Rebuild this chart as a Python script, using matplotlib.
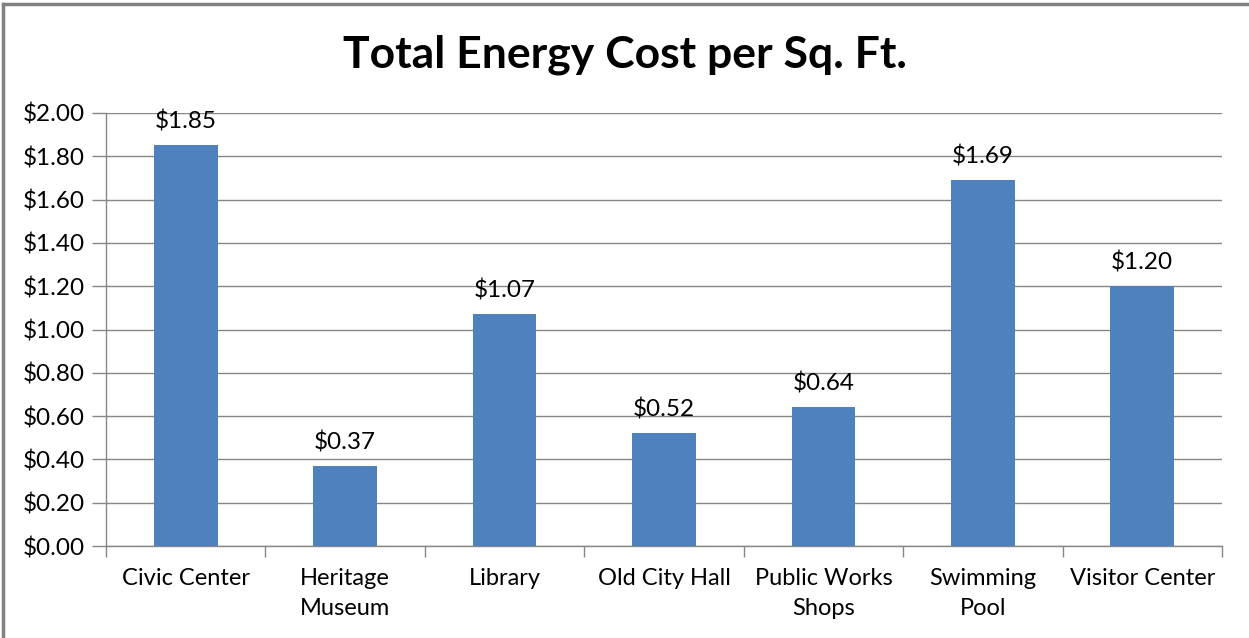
import matplotlib
matplotlib.use("Agg")
import matplotlib.pyplot as plt
from matplotlib.lines import Line2D
import numpy as np

categories = ["Civic Center", "Heritage\nMuseum", "Library", "Old City Hall",
              "Public Works\nShops", "Swimming\nPool", "Visitor Center"]
values = [1.85, 0.37, 1.07, 0.52, 0.64, 1.69, 1.20]
yticks = [0.0, 0.2, 0.4, 0.6, 0.8, 1.0, 1.2, 1.4, 1.6, 1.8, 2.0]
title = "Total Energy Cost per Sq. Ft."

plt.rcParams['font.family'] = ['Lato', 'DejaVu Sans']

W, H = 1249, 638
fig = plt.figure(figsize=(W / 100, H / 100), dpi=100)
ax = fig.add_axes([106 / W, 1 - 546 / H, (1222 - 106) / W, (546 - 113) / H])

grid_c = "#868686"
bar_c = "#4F81BD"
text_c = "#000000"

x = np.arange(len(categories))
ax.bar(x, values, width=0.4, color=bar_c, zorder=3)
for xi, v in zip(x, values):
    ax.annotate(f"${v:.2f}", (xi, v), xytext=(0, 9), textcoords="offset points",
                ha="center", va="bottom", fontsize=17.5, color=text_c)

ax.set_xlim(-0.5, len(categories) - 0.5)
ax.set_ylim(0, 2.0)
ax.set_yticks(yticks)
ax.set_yticklabels([f"${t:.2f}" for t in yticks], fontsize=17.5, color=text_c)
ax.yaxis.grid(True, color=grid_c, linewidth=1.0, zorder=0)
ax.set_axisbelow(True)

ax.set_xticks(x)
ax.set_xticklabels(categories, fontsize=17, color=text_c, linespacing=1.5)
ax.tick_params(axis='x', length=0, pad=16)
ax.set_xticks(np.arange(-0.5, len(categories) + 0.5, 1), minor=True)
ax.tick_params(axis='x', which='minor', length=8, color=grid_c, width=1.0)
ax.tick_params(axis='y', length=10, color=grid_c, width=1.0, pad=5)

for s in ['top', 'right']:
    ax.spines[s].set_visible(False)
for s in ['left', 'bottom']:
    ax.spines[s].set_color(grid_c)
    ax.spines[s].set_linewidth(1.0)

fig.text(625 / W, 1 - 55 / H, title, ha="center", va="center",
         fontsize=32, fontweight="bold", color=text_c)

# outer chart border (left and top visible)
fig.add_artist(Line2D([3 / W, 3 / W], [0, 1 - 4 / H], transform=fig.transFigure,
                      color="#808080", linewidth=2.5))
fig.add_artist(Line2D([3 / W, 1], [1 - 4 / H, 1 - 4 / H], transform=fig.transFigure,
                      color="#808080", linewidth=2.5))

fig.savefig("out.png", dpi=100, facecolor="white")
